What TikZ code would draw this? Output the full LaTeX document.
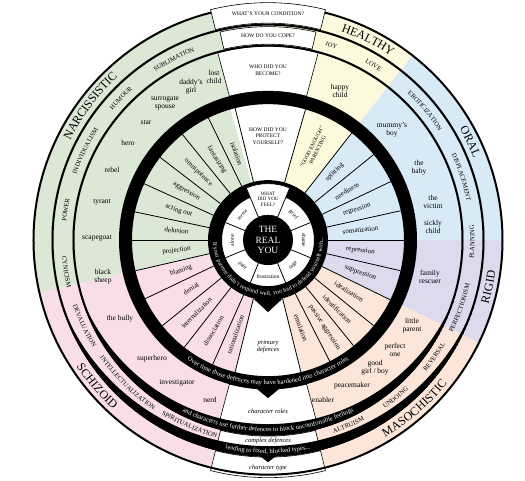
\documentclass[tikz,border=0pt]{standalone}
\usepackage{fontspec}
\setmainfont{Liberation Serif}
\usetikzlibrary{decorations.text}

\definecolor{narcgreen}{RGB}{218,232,213}
\definecolor{healthyellow}{RGB}{253,249,221}
\definecolor{oralblue}{RGB}{217,234,247}
\definecolor{rigidpurple}{RGB}{221,218,238}
\definecolor{masopeach}{RGB}{252,229,217}
\definecolor{schizpink}{RGB}{249,222,234}

% ring segment: colour, from, to, inner, outer
\newcommand{\ringpart}[5]{%
	\fill[#1] (#2:#4) arc[start angle=#2, end angle=#3, radius=#4]
	-- (#3:#5) arc[start angle=#3, end angle=#2, radius=#5] -- cycle;}
% white cell with outline: from, to, inner, outer
\newcommand{\tabcell}[4]{%
	\filldraw[fill=white, draw=black, line width=0.6pt] (#1:#3) arc[start angle=#1, end angle=#2, radius=#3]
	-- (#2:#4) arc[start angle=#2, end angle=#1, radius=#4] -- cycle;}
% text on an arc: [raise] radius, from, to, format, text
\newcommand{\arctext}[6][-2pt]{%
	\path[decorate, decoration={text along path, text align=center, raise=#1,
		text={|#5|#6}}] (#3:#2) arc[start angle=#3, end angle=#4, radius=#2];}

\begin{document}
\begin{tikzpicture}[%
			x=1pt, y=1pt,
			rolelabel/.style={font=\fontsize{7.5}{8}\selectfont, align=center, inner sep=0pt},
			deflabel/.style={font=\fontsize{7}{8}\selectfont, inner sep=0pt},
			feellabel/.style={font=\fontsize{5.5}{6}\selectfont, inner sep=0pt},
			colhead/.style={font=\fontsize{5.5}{6.5}\selectfont, align=center, inner sep=0pt},
			colfoot/.style={font=\fontsize{6.5}{7}\selectfont\itshape, align=center, inner sep=0pt}]
	\fill[white] (-268,-240) rectangle (257,240);

	% coloured sectors
	\ringpart{healthyellow}{52}{90}{60}{235}
	\ringpart{oralblue}{0}{52}{60}{235}
	\ringpart{rigidpurple}{-26}{0}{60}{235}
	\ringpart{masopeach}{-90}{-26}{60}{235}
	\ringpart{schizpink}{193}{270}{60}{235}
	\ringpart{narcgreen}{90}{193}{60}{235}

	% white column
	\ringpart{white}{74}{106}{60}{136}
	\ringpart{white}{256}{284}{60}{136}
	\tabcell{75}{105}{149}{194}
	\tabcell{255}{285}{149}{194}
	\tabcell{256}{284}{196}{214}
	\tabcell{256}{284}{217}{237.5}

	% rings and bands
	\draw[line width=2pt] (0,0) circle[radius=234.5];
	\draw[line width=2pt] (0,0) circle[radius=215.5];
	\draw[line width=2pt] (0,0) circle[radius=194.5];
	\fill[even odd rule] (0,0) circle[radius=149] (0,0) circle[radius=136];
	\begin{scope}
		\clip (0,0) circle[radius=216.5];
		\fill[even odd rule] (0,0) circle[radius=216.5] (0,14.79) circle[radius=220.79];
	\end{scope}
	\begin{scope}
		\clip (0,0) circle[radius=195.5];
		\fill[even odd rule] (0,0) circle[radius=195.5] (0,16.36) circle[radius=200.36];
	\end{scope}

	% top tabs
	\tabcell{76}{104}{217}{237.5}
	\tabcell{77}{103}{196}{213.5}

	% inner ring and spokes
	\fill[even odd rule] (0,0) circle[radius=60] (0,0) circle[radius=46];
	\foreach \a in {74,104,116,129,142.5,155.5,168,180,193,205.5,219,232,246,256,284,297,309,321,334,347,0,12.5,25.5,39,52}
		\draw[line width=0.8pt] (\a:60) -- (\a:136);
	\foreach \a in {22.5,67.5,...,337.5}
		\draw[line width=0.8pt] (\a:25) -- (\a:46);
	\tabcell{67.5}{112.5}{25}{56.5}
	\fill (0,0) circle[radius=25];

	% arrow notches
	\fill (-14,-59) -- (0,-72) -- (14,-59) -- cycle;
	\fill (-12,-148) -- (0,-158) -- (12,-148) -- cycle;
	\fill (-8,-216) -- (0,-222) -- (8,-216) -- cycle;

	% column texts
	\node[font=\fontsize{9.5}{10.5}\selectfont, text=white, align=center, inner sep=0pt] (realyou) at (0,0) {THE\\REAL\\YOU};
	\node[colhead, font=\fontsize{5}{5.5}\selectfont] (feel) at (90:41) {WHAT\\DID YOU\\FEEL?};
	\node[colhead] (protect) at (90:104) {HOW DID YOU\\PROTECT\\YOURSELF?};
	\node[colhead] (become) at (90:170) {WHO DID YOU\\BECOME?};
	\node[colhead] (cope) at (90:204.5) {HOW DO YOU COPE?};
	\node[colhead] (condition) at (90:226.5) {WHAT'S YOUR CONDITION?};
	\node[colfoot] (primary) at (270:106) {primary\\defences};
	\node[colfoot] (roles) at (270:171) {character roles};
	\node[colfoot] (complex) at (270:200.5) {complex defences};
	\node[colfoot] (ctype) at (270:228) {character type};

	% feelings
	\node[feellabel, rotate=-45] (grief) at (45:36) {grief};
	\node[feellabel, rotate=-90] (shame) at (0:36) {shame};
	\node[feellabel, rotate=45] (rage) at (315:36) {rage};
	\node[feellabel] (frustration) at (270:36) {frustration};
	\node[feellabel, rotate=-45] (pain) at (225:36) {pain};
	\node[feellabel, rotate=90] (alone) at (180:36) {alone};
	\node[feellabel, rotate=45] (terror) at (135:36) {terror};

	% defences
	\foreach \ang/\rad/\txt [count=\i] in {110/92/isolation, 122.5/95/fantasizing, 135.75/97/omnipotence,
			149/95/aggression, 161.75/94/acting out, 174/92/delusion, 186.5/92/projection, 199.25/92/blaming,
			212.25/91/denial, 225.5/102/internalization, 239/106/dissociation, 251/100/rationalization}
		\node[deflabel, rotate=\ang+180] (defl\i) at (\ang:\rad) {\txt};
	\foreach \ang/\rad/\txt [count=\i] in {290.5/94/emulation, 303/104/passive aggression, 315/98/identification,
			327.5/96/idealization, 340.5/98/suppression, 353.5/93/repression, 6.25/93/somatization,
			19/94/regression, 32/93/neediness, 45.5/95/splitting}
		\node[deflabel, rotate=\ang] (defr\i) at (\ang:\rad) {\txt};
	\node[deflabel, font=\fontsize{5.5}{6.5}\selectfont, align=center, rotate=63] (goodenough) at (63:103) {“GOOD ENOUGH”\\PARENTING};

	% roles
	\foreach \x/\y/\txt [count=\i] in {-54/163/{lost\\child}, -77/153/{daddy's\\girl}, -103/137/{surrogate\\spouse},
			-122/118/star, -140/97/hero, -156/70/rebel, -166/38/tyrant, -171/2/scapegoat,
			-165/-37/{black\\sheep}, -148/-79/the bully, -116/-119/superhero, -91/-143/investigator,
			-58/-160/nerd, 55/-160/enabler, 84/-146/peacemaker, 107/-128/{good\\girl / boy},
			127/-110/{perfect\\one}, 144/-86/{little\\parent}, 162/-37/{family\\rescuer},
			165/13/{sickly\\child}, 165/38/{the\\victim}, 151/72/{the\\baby}, 124/110/{mummy's\\boy},
			72/149/{happy\\child}}
		\node[rolelabel] (role\i) at (\x,\y) {\txt};

	% coping
	\arctext{204.5}{147.5}{87.5}{\fontsize{6.5}{6.5}\selectfont}{SUBLIMATION}
	\arctext{204.5}{166}{106}{\fontsize{6.5}{6.5}\selectfont}{HUMOUR}
	\arctext{204.5}{184}{124}{\fontsize{6.5}{6.5}\selectfont}{INDIVIDUALISM}
	\arctext{204.5}{201.5}{141.5}{\fontsize{6.5}{6.5}\selectfont}{POWER}
	\arctext{204.5}{102}{42}{\fontsize{6.5}{6.5}\selectfont}{JOY}
	\arctext{204.5}{89}{29}{\fontsize{6.5}{6.5}\selectfont}{LOVE}
	\arctext{204.5}{69.5}{9.5}{\fontsize{6.5}{6.5}\selectfont}{EROTICIZATION}
	\arctext{204.5}{48}{-12}{\fontsize{6.5}{6.5}\selectfont}{DISPLACEMENT}
	\arctext{204.5}{159}{219}{\fontsize{6.5}{6.5}\selectfont}{CYNICISM}
	\arctext{203.5}{175}{235}{\fontsize{6.5}{6.5}\selectfont}{DEVALUATION}
	\arctext{203}{195.5}{255.5}{\fontsize{6.5}{6.5}\selectfont}{INTELLECTUALIZATION}
	\arctext{202}{217}{277}{\fontsize{6.5}{6.5}\selectfont}{SPIRITUALIZATION}
	\arctext{202}{263.5}{323.5}{\fontsize{6.5}{6.5}\selectfont}{ALTRUISM}
	\arctext{203}{279}{339}{\fontsize{6.5}{6.5}\selectfont}{UNDOING}
	\arctext{203.5}{295}{355}{\fontsize{6.5}{6.5}\selectfont}{REVERSAL}
	\arctext{204.5}{310.5}{370.5}{\fontsize{6.5}{6.5}\selectfont}{PERFECTIONISM}
	\arctext{204.5}{329.5}{389.5}{\fontsize{6.5}{6.5}\selectfont}{PLANNING}

	% character types
	\arctext[-4pt]{225.5}{173}{113}{\fontsize{12}{12}\selectfont}{NARCISSISTIC}
	\arctext[-4pt]{225.5}{93.5}{33.5}{\fontsize{12}{12}\selectfont}{HEALTHY}
	\arctext[-4pt]{225.5}{56}{-4}{\fontsize{12}{12}\selectfont}{ORAL}
	\arctext[-4pt]{225.5}{318}{378}{\fontsize{12}{12}\selectfont}{RIGID}
	\arctext[-4pt]{225.5}{281}{341}{\fontsize{12}{12}\selectfont}{MASOCHISTIC}
	\arctext[-4pt]{225.5}{190.5}{250.5}{\fontsize{12}{12}\selectfont}{SCHIZOID}

	% texts in the black bands
	\arctext{53}{165}{380}{\fontsize{6}{6}\selectfont\color{white}}{If your parents didn't respond well, you had to defend yourself with...}
	\arctext{142.5}{220}{320}{\fontsize{6.5}{6.5}\selectfont\color{white}}{Over time those defences may have hardened into character roles}
	\arctext{189.5}{225}{315}{\fontsize{6.5}{6.5}\selectfont\color{white}}{and characters use further defences to block uncomfortable feelings}
	\arctext{211}{245}{295}{\fontsize{6.5}{6.5}\selectfont\color{white}}{leading to fixed, blocked types...}
\end{tikzpicture}
\end{document}
